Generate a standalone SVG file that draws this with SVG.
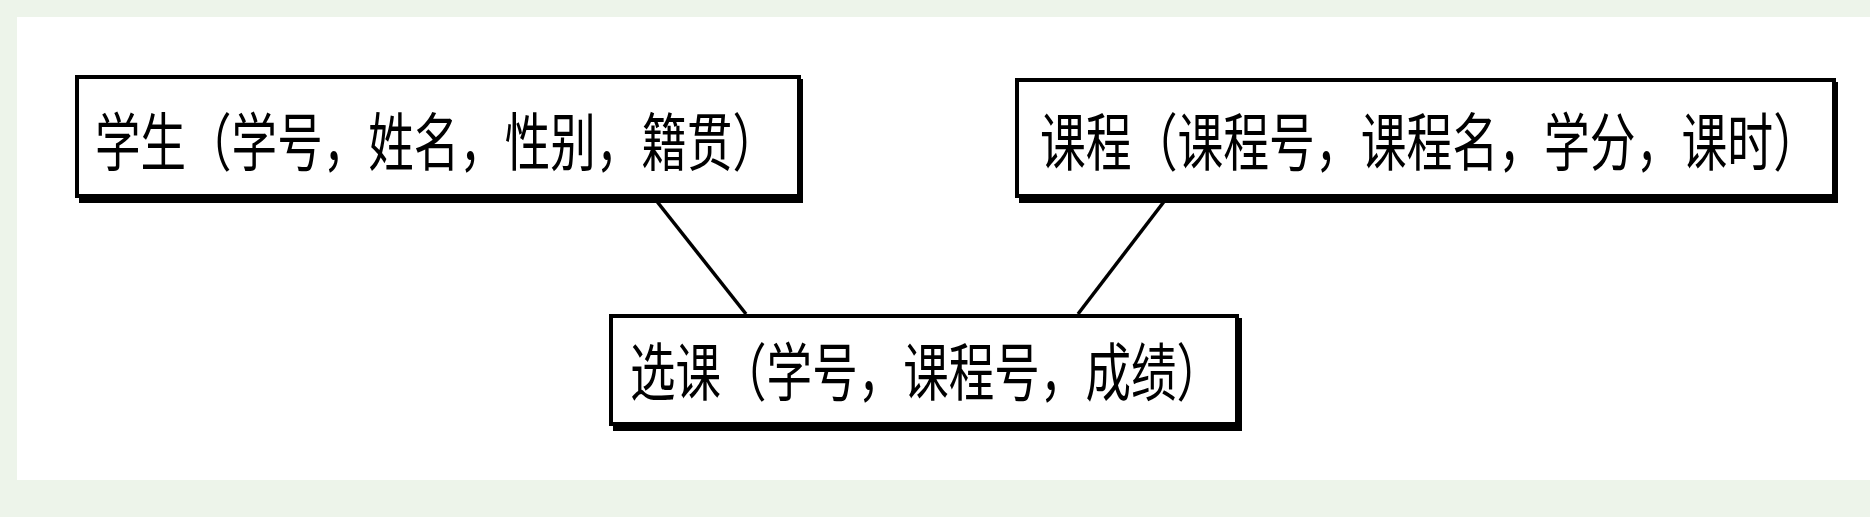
<svg xmlns="http://www.w3.org/2000/svg" width="1870" height="517" viewBox="0 0 1870 517">
<style>
.shadow{fill:#000;}
.box{fill:#fff;stroke:#000;stroke-width:4;}
.lbl{font-family:"Noto Sans CJK SC","Noto Sans CJK TC",sans-serif;font-size:45.5px;fill:#000;dominant-baseline:central;}
.conn{stroke:#000;stroke-width:3.5;fill:none;}
</style>
<rect x="0" y="0" width="1870" height="517" fill="#edf4ea"/>
<rect x="17" y="17" width="1853" height="463" fill="#fff"/>
<g id="connectors">
<line class="conn" x1="655" y1="199" x2="746" y2="314"/>
<line class="conn" x1="1166" y1="199" x2="1078" y2="314"/>
</g>
<g id="student">
<rect class="shadow" x="79" y="79" width="724" height="124"/>
<rect class="box" x="77" y="77" width="722" height="119"/>
<text class="lbl" transform="translate(95,138) scale(1,1.38)" x="0" y="0" textLength="683" lengthAdjust="spacingAndGlyphs">学生（学号，姓名，性别，籍贯）</text>
</g>
<g id="course">
<rect class="shadow" x="1019" y="82" width="819" height="121"/>
<rect class="box" x="1017" y="80" width="817" height="116"/>
<text class="lbl" transform="translate(1040,138) scale(1,1.38)" x="0" y="0" textLength="779" lengthAdjust="spacingAndGlyphs">课程（课程号，课程名，学分，课时）</text>
</g>
<g id="selection">
<rect class="shadow" x="613" y="318" width="629" height="113"/>
<rect class="box" x="611" y="316" width="626" height="108"/>
<text class="lbl" transform="translate(630,368) scale(1,1.38)" x="0" y="0" textLength="592" lengthAdjust="spacingAndGlyphs">选课（学号，课程号，成绩）</text>
</g>
</svg>
